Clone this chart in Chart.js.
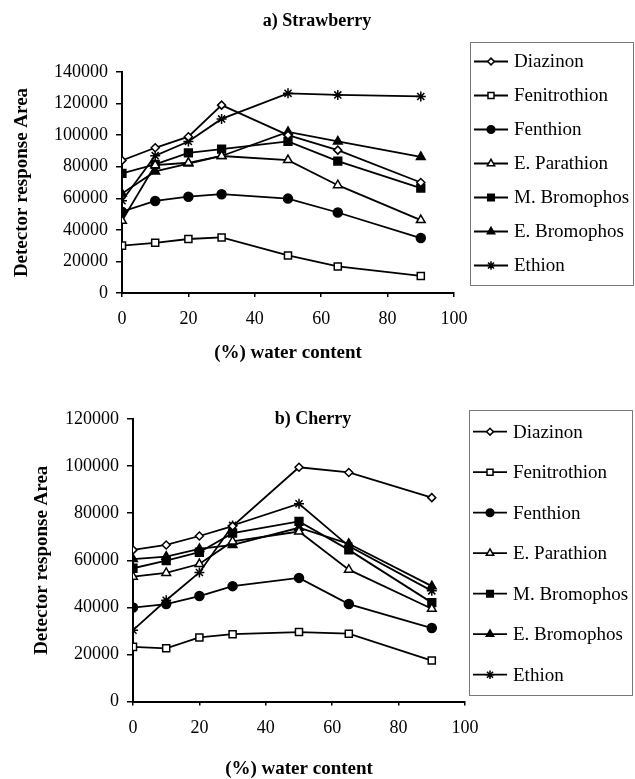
<!DOCTYPE html>
<html>
<head>
<meta charset="utf-8">
<script src="https://cdn.jsdelivr.net/npm/chart.js@4.4.1/dist/chart.umd.min.js"></script>
<style>
  html, body { margin: 0; padding: 0; background: #fff; }
  #wrap { position: relative; width: 635px; height: 779px; }
  canvas { position: absolute; left: 0; }
</style>
</head>
<body>
<div id="wrap">
  <canvas id="strawberryChart" width="635" height="370" style="top:0"></canvas>
  <canvas id="cherryChart" width="635" height="409" style="top:370px"></canvas>
</div>
<script>
// water content (%) on the x axis
const waterContent = [0, 10, 20, 30, 50, 65, 90];
const pesticides = ['Diazinon', 'Fenitrothion', 'Fenthion', 'E. Parathion', 'M. Bromophos', 'E. Bromophos', 'Ethion'];

// a) Strawberry - detector response area
const diazinonA     = [84000, 92000, 99000, 119000, 100000, 90500, 70000];
const fenitrothionA = [30000, 31800, 34200, 35200, 23800, 16800, 10800];
const fenthionA     = [51500, 58300, 61000, 62600, 59800, 51000, 34800];
const eParathionA   = [45800, 81000, 82500, 86800, 84200, 68300, 46200];
const mBromophosA   = [75800, 81500, 88700, 91200, 96000, 83600, 66500];
const eBromophosA   = [63000, 77000, 82000, 86800, 102000, 96000, 86200];
const ethionA       = [58500, 87000, 96000, 110300, 126500, 125500, 124500];

// b) Cherry - detector response area
const diazinonB     = [64400, 66500, 70300, 74500, 99500, 97300, 86600];
const fenitrothionB = [23200, 22600, 27200, 28600, 29500, 28800, 17400];
const fenthionB     = [39900, 41400, 44800, 49000, 52500, 41400, 31200];
const eParathionB   = [53000, 54600, 58400, 68000, 72200, 56000, 39400];
const mBromophosB   = [56600, 59800, 63400, 71500, 76500, 64400, 42000];
const eBromophosB   = [60500, 61500, 64800, 66500, 73800, 67000, 49000];
const ethionB       = [30300, 43000, 54800, 74800, 84000, 66000, 47000];

const yTicksA = { max: 140000, step: 20000 };
const yTicksB = { max: 120000, step: 20000 };
const xTicks = { max: 100, step: 20 };

// marker look per pesticide (same order as pesticides)
const markers = [
  { style: 'rectRot',  radius: 4,   fill: '#fff' },
  { style: 'rect',     radius: 5,   fill: '#fff' },
  { style: 'circle',   radius: 4.5, fill: '#000' },
  { style: 'triangle', radius: 5,   fill: '#fff' },
  { style: 'rect',     radius: 5.5, fill: '#000' },
  { style: 'triangle', radius: 5,   fill: '#000' },
  { style: 'star',     radius: 5,   fill: '#000' }
];

const serif = '"Liberation Serif", "Times New Roman", serif';

function makeDatasets(series) {
  return series.map((vals, i) => ({
    label: pesticides[i],
    data: vals.map((v, j) => ({ x: waterContent[j], y: v })),
    borderColor: '#000',
    borderWidth: 1.8,
    tension: 0,
    pointStyle: markers[i].style,
    pointRadius: markers[i].radius,
    pointBackgroundColor: markers[i].fill,
    pointBorderColor: '#000',
    pointBorderWidth: 1.5
  }));
}

// title + framed legend drawn like the original figure
const panelDecor = {
  id: 'panelDecor',
  afterDraw(chart, args, opts) {
    const ctx = chart.ctx;
    ctx.save();
    ctx.fillStyle = '#000';
    ctx.font = 'bold 18px ' + serif;
    ctx.textAlign = 'center';
    ctx.textBaseline = 'middle';
    ctx.fillText(opts.title, opts.titleX, opts.titleY);

    const lg = opts.legend;
    ctx.strokeStyle = '#777';
    ctx.lineWidth = 1;
    ctx.strokeRect(lg.left + 0.5, lg.top + 0.5, lg.right - lg.left, lg.bottom - lg.top);

    ctx.font = '19px ' + serif;
    ctx.textAlign = 'left';
    chart.data.datasets.forEach((ds, i) => {
      const y = lg.firstY + i * lg.gap;
      ctx.strokeStyle = '#000';
      ctx.lineWidth = 1.8;
      ctx.beginPath();
      ctx.moveTo(lg.left + 4, y);
      ctx.lineTo(lg.left + 38, y);
      ctx.stroke();
      ctx.fillStyle = ds.pointBackgroundColor;
      ctx.lineWidth = ds.pointBorderWidth;
      Chart.helpers.drawPoint(ctx, {
        pointStyle: ds.pointStyle,
        radius: ds.pointRadius * 0.85,
        rotation: 0,
        borderWidth: ds.pointBorderWidth
      }, lg.left + 21, y);
      ctx.fillStyle = '#000';
      ctx.fillText(ds.label, lg.left + 44, y + 1);
    });
    ctx.restore();
  }
};

function buildChart(id, series, yt, box) {
  const canvas = document.getElementById(id);
  return new Chart(canvas, {
    type: 'line',
    data: { datasets: makeDatasets(series) },
    plugins: [panelDecor],
    options: {
      responsive: false,
      animation: false,
      devicePixelRatio: 1,
      layout: { padding: { top: box.top, right: 635 - box.right, left: 0, bottom: 0 } },
      plugins: {
        legend: { display: false },
        tooltip: { enabled: false },
        panelDecor: box.decor
      },
      scales: {
        x: {
          type: 'linear',
          min: 0,
          max: xTicks.max,
          afterFit: s => { s.height = canvas.height - box.bottom; },
          ticks: { stepSize: xTicks.step, color: '#000', font: { family: serif, size: 18 }, padding: box.xPad, maxRotation: 0 },
          grid: { drawOnChartArea: false, drawTicks: true, tickLength: 4, color: '#000', lineWidth: 1.5 },
          border: { display: true, color: '#000', width: 2 },
          title: { display: true, text: '(%) water content', color: '#000', font: { family: serif, size: 19, weight: 'bold', lineHeight: 1 }, padding: { top: 0, bottom: box.xTitlePad } }
        },
        y: {
          min: 0,
          max: yt.max,
          afterFit: s => { s.width = box.left; },
          ticks: { stepSize: yt.step, color: '#000', font: { family: serif, size: 18 }, padding: 8, callback: v => String(v) },
          grid: { drawOnChartArea: false, drawTicks: true, tickLength: 6, color: '#000', lineWidth: 1.5 },
          border: { display: true, color: '#000', width: 2 },
          title: { display: true, text: 'Detector response Area', color: '#000', font: { family: serif, size: 19, weight: 'bold', lineHeight: 1 }, padding: { top: box.yTitlePad, bottom: 0 } }
        }
      }
    }
  });
}

buildChart('strawberryChart',
  [diazinonA, fenitrothionA, fenthionA, eParathionA, mBromophosA, eBromophosA, ethionA],
  yTicksA,
  {
    left: 122, right: 454, top: 72, bottom: 293, xPad: 11, xTitlePad: 7, yTitlePad: 12.5,
    decor: {
      title: 'a) Strawberry', titleX: 317, titleY: 21,
      legend: { left: 470, top: 42, right: 633, bottom: 285, firstY: 61.5, gap: 34 }
    }
  });

buildChart('cherryChart',
  [diazinonB, fenitrothionB, fenthionB, eParathionB, mBromophosB, eBromophosB, ethionB],
  yTicksB,
  {
    left: 133, right: 465, top: 49, bottom: 331.5, xPad: 12, xTitlePad: 0, yTitlePad: 32.5,
    decor: {
      title: 'b) Cherry', titleX: 313, titleY: 49,
      legend: { left: 469, top: 40, right: 632, bottom: 325, firstY: 61.7, gap: 40.5 }
    }
  });
</script>
</body>
</html>
